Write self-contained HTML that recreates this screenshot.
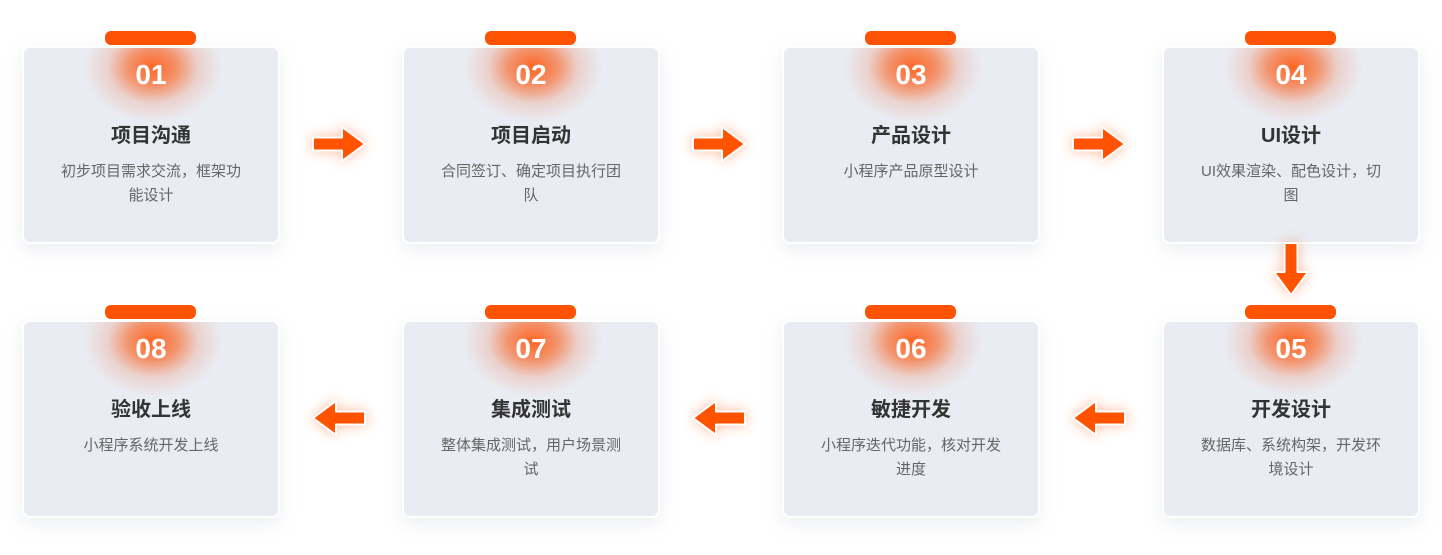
<!DOCTYPE html>
<html><head><meta charset="utf-8"><style>
*{margin:0;padding:0;box-sizing:border-box}
body{width:1442px;height:555px;background:#fff;position:relative;overflow:hidden;font-family:"Liberation Sans","Noto Sans CJK SC",sans-serif}
.card{position:absolute;width:258px;height:198px;background:#e9ecf3;border:2px solid #fff;border-radius:8px;box-shadow:0 6px 18px rgba(150,160,180,.18);overflow:hidden}
.glow{position:absolute;left:59px;top:-30px;width:140px;height:110px;background:radial-gradient(ellipse 50% 50% at 50% 45%,rgba(255,95,25,.95) 0%,rgba(245,125,75,.8) 35%,rgba(238,160,135,.35) 65%,rgba(233,236,243,0) 100%)}
.num{position:absolute;left:0;right:0;top:11px;text-align:center;color:#fff;font-weight:bold;font-size:28px;font-family:"Liberation Sans",sans-serif}
.title{position:absolute;left:0;right:0;top:71px;text-align:center;color:#333;font-weight:bold;font-size:20px}
.desc{position:absolute;left:30px;right:30px;top:112px;text-align:center;color:#666;font-size:15px;line-height:24px}
.bar{position:absolute;width:93px;height:16px;background:#ff5304;border:1.5px solid #fff;border-radius:7px}
svg{position:absolute;overflow:visible}
</style></head><body>

<div class="card" style="left:22px;top:46px"><div class="glow"></div><div class="num">01</div><div class="title">项目沟通</div><div class="desc">初步项目需求交流，框架功能设计</div></div>
<div class="card" style="left:402px;top:46px"><div class="glow"></div><div class="num">02</div><div class="title">项目启动</div><div class="desc">合同签订、确定项目执行团队</div></div>
<div class="card" style="left:782px;top:46px"><div class="glow"></div><div class="num">03</div><div class="title">产品设计</div><div class="desc">小程序产品原型设计</div></div>
<div class="card" style="left:1162px;top:46px"><div class="glow"></div><div class="num">04</div><div class="title">UI设计</div><div class="desc">UI效果渲染、配色设计，切图</div></div>

<div class="card" style="left:22px;top:320px"><div class="glow"></div><div class="num">08</div><div class="title">验收上线</div><div class="desc">小程序系统开发上线</div></div>
<div class="card" style="left:402px;top:320px"><div class="glow"></div><div class="num">07</div><div class="title">集成测试</div><div class="desc">整体集成测试，用户场景测试</div></div>
<div class="card" style="left:782px;top:320px"><div class="glow"></div><div class="num">06</div><div class="title">敏捷开发</div><div class="desc">小程序迭代功能，核对开发进度</div></div>
<div class="card" style="left:1162px;top:320px"><div class="glow"></div><div class="num">05</div><div class="title">开发设计</div><div class="desc">数据库、系统构架，开发环境设计</div></div>

<div class="bar" style="left:104px;top:30px"></div>
<div class="bar" style="left:484px;top:30px"></div>
<div class="bar" style="left:864px;top:30px"></div>
<div class="bar" style="left:1244px;top:30px"></div>
<div class="bar" style="left:104px;top:304px"></div>
<div class="bar" style="left:484px;top:304px"></div>
<div class="bar" style="left:864px;top:304px"></div>
<div class="bar" style="left:1244px;top:304px"></div>

<svg width="1442" height="555" style="left:0;top:0">
<defs>
<filter id="g" x="-50%" y="-50%" width="200%" height="200%"><feDropShadow dx="0" dy="0" stdDeviation="6" flood-color="#ff6a2a" flood-opacity=".45"/></filter>
<path id="ar" d="M0,-6.5 L29,-6.5 L29,-17 L52,0 L29,17 L29,6.5 L0,6.5 Z" fill="#ff5304" stroke="#fff" stroke-width="2" stroke-linejoin="round"/>
</defs>
<g filter="url(#g)">
<use href="#ar" transform="translate(313,144)"/>
<use href="#ar" transform="translate(693,144)"/>
<use href="#ar" transform="translate(1073,144)"/>
<use href="#ar" transform="translate(1291,243) rotate(90)"/>
<use href="#ar" transform="translate(1125,418) rotate(180)"/>
<use href="#ar" transform="translate(745,418) rotate(180)"/>
<use href="#ar" transform="translate(365,418) rotate(180)"/>
</g>
</svg>
</body></html>
